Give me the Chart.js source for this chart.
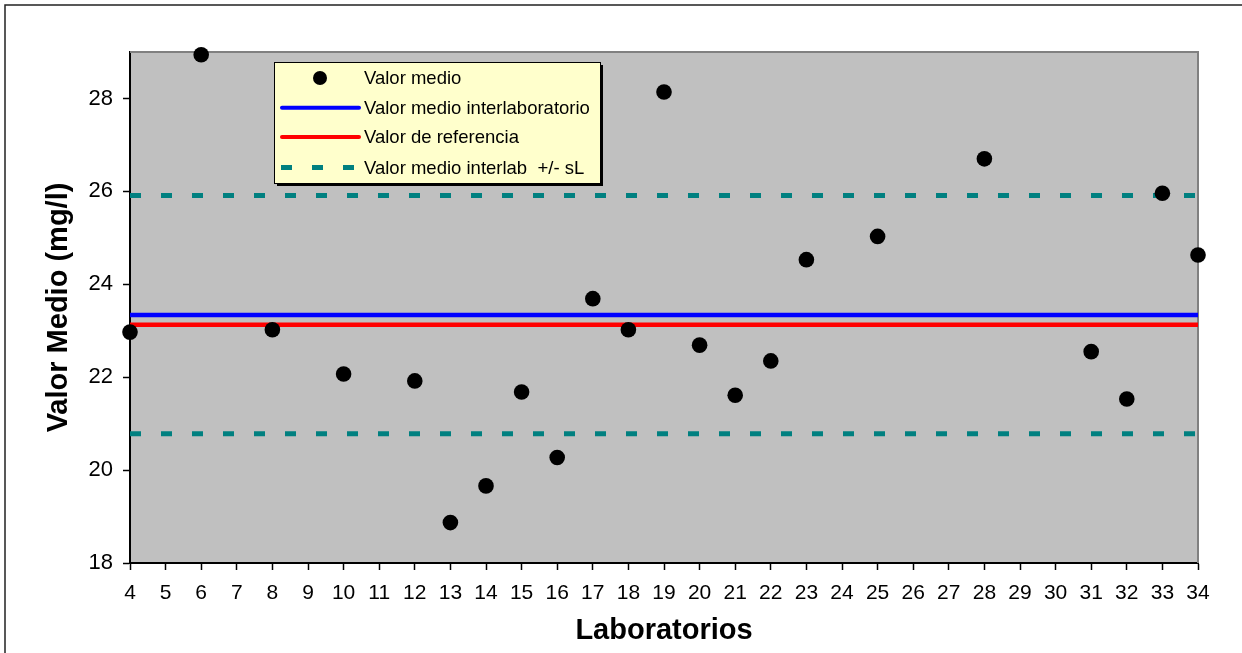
<!DOCTYPE html>
<html>
<head>
<meta charset="utf-8">
<script src="https://cdn.jsdelivr.net/npm/chart.js@4.4.1/dist/chart.umd.min.js"></script>
<style>
  html, body { margin: 0; padding: 0; background: #fff; }
  #wrap { width: 1242px; height: 653px; position: relative; }
</style>
</head>
<body>
<div id="wrap"><canvas id="c"></canvas></div>
<script>
// ---- data ----
const laboratorios = [4, 6, 8, 10, 12, 13, 14, 15, 16, 17, 18, 19, 20, 21, 22, 23, 25, 28, 31, 32, 33, 34];
const valorMedio   = [22.97, 28.94, 23.02, 22.07, 21.92, 18.87, 19.66, 21.68, 20.27, 23.69, 23.02, 28.14, 22.69, 21.61, 22.35, 24.53, 25.03, 26.70, 22.55, 21.53, 25.96, 24.63];
const valorMedioInterlab = 23.34;
const valorReferencia = 23.13;
const interlabMasSL = 25.91;
const interlabMenosSL = 20.78;
const xRange = [4, 34];
const yRange = [18, 29];
const yStep = 2;
const legendLabels = ['Valor medio', 'Valor medio interlaboratorio', 'Valor de referencia', 'Valor medio interlab  +/- sL'];
const xTitle = 'Laboratorios';
const yTitle = 'Valor Medio (mg/l)';

const FONT = "'Liberation Sans', Arial, sans-serif";

const hline = (v) => [{ x: xRange[0], y: v }, { x: xRange[1], y: v }];

const framePlugin = {
  id: 'frame',
  beforeDraw(chart) {
    const { ctx, chartArea: a } = chart;
    ctx.save();
    ctx.fillStyle = '#ffffff';
    ctx.fillRect(0, 0, chart.width, chart.height);
    ctx.strokeStyle = '#222';
    ctx.lineWidth = 1.5;
    ctx.strokeRect(5, 5, chart.width + 50, chart.height + 50);
    ctx.fillStyle = '#C0C0C0';
    ctx.fillRect(a.left, a.top, a.right - a.left, a.bottom - a.top);
    ctx.restore();
  },
  beforeDatasetsDraw(chart) {
    const { ctx, chartArea: a } = chart;
    ctx.save();
    ctx.strokeStyle = '#808080';
    ctx.lineWidth = 2;
    ctx.beginPath();
    ctx.moveTo(a.left, a.top);
    ctx.lineTo(a.right, a.top);
    ctx.lineTo(a.right, a.bottom);
    ctx.stroke();
    ctx.restore();
  },
  afterDraw(chart) {
    const { ctx } = chart;
    const bx = 274, by = 62, bw = 326, bh = 121;
    ctx.save();
    ctx.fillStyle = '#000';
    ctx.fillRect(bx + 3, by + 3, bw, bh);
    ctx.fillStyle = '#FFFFCC';
    ctx.fillRect(bx, by, bw, bh);
    ctx.strokeStyle = '#000';
    ctx.lineWidth = 1;
    ctx.strokeRect(bx + 0.5, by + 0.5, bw, bh);
    const rows = [78, 107.7, 137, 167.5];
    const ds = chart.data.datasets;
    ctx.font = '18.5px ' + FONT;
    ctx.textBaseline = 'middle';
    ctx.textAlign = 'left';
    for (let i = 0; i < 4; i++) {
      const y = rows[i];
      const d = ds[i];
      if (i === 0) {
        ctx.fillStyle = '#000';
        ctx.beginPath();
        ctx.arc(320, y, 7, 0, Math.PI * 2);
        ctx.fill();
      } else {
        ctx.strokeStyle = d.borderColor;
        ctx.lineWidth = i === 3 ? 5 : 4;
        ctx.lineCap = i === 3 ? 'butt' : 'round';
        ctx.setLineDash(d.borderDash || []);
        ctx.beginPath();
        ctx.moveTo(i === 3 ? 281 : 282, y);
        ctx.lineTo(i === 3 ? 356 : 359, y);
        ctx.stroke();
        ctx.setLineDash([]);
      }
      ctx.fillStyle = '#000';
      ctx.fillText(legendLabels[i], 364, y + 1);
    }
    ctx.restore();
  }
};

new Chart(document.getElementById('c'), {
  type: 'scatter',
  data: {
    datasets: [
      {
        label: legendLabels[0],
        data: laboratorios.map((x, i) => ({ x: x, y: valorMedio[i] })),
        backgroundColor: '#000',
        borderColor: '#000',
        pointRadius: 7.8,
        pointBorderWidth: 0,
        pointHoverRadius: 7.8,
        clip: false,
        order: 0
      },
      {
        label: legendLabels[1],
        type: 'line',
        data: hline(valorMedioInterlab),
        borderColor: '#0000FF',
        borderWidth: 4.5,
        pointRadius: 0,
        fill: false,
        order: 2
      },
      {
        label: legendLabels[2],
        type: 'line',
        data: hline(valorReferencia),
        borderColor: '#FF0000',
        borderWidth: 4.5,
        pointRadius: 0,
        fill: false,
        order: 1
      },
      {
        label: legendLabels[3],
        type: 'line',
        data: hline(interlabMasSL),
        borderColor: '#008080',
        borderWidth: 5,
        borderDash: [11, 20],
        borderCapStyle: 'butt',
        pointRadius: 0,
        fill: false,
        order: 3
      },
      {
        label: legendLabels[3] + ' (inf)',
        type: 'line',
        data: hline(interlabMenosSL),
        borderColor: '#008080',
        borderWidth: 5,
        borderDash: [11, 20],
        borderCapStyle: 'butt',
        pointRadius: 0,
        fill: false,
        order: 4
      }
    ]
  },
  options: {
    responsive: true,
    maintainAspectRatio: false,
    animation: false,
    events: [],
    layout: { padding: { top: 52, right: 44, left: 0, bottom: 0 } },
    plugins: {
      legend: { display: false },
      tooltip: { enabled: false }
    },
    scales: {
      x: {
        type: 'linear',
        min: xRange[0],
        max: xRange[1],
        afterFit(scale) { scale.height = 90; },
        grid: { display: true, drawOnChartArea: false, drawTicks: true, tickLength: 7, tickWidth: 1.5, color: '#000' },
        border: { display: true, color: '#000', width: 2 },
        ticks: {
          stepSize: 1,
          autoSkip: false,
          maxRotation: 0,
          padding: 11,
          color: '#000',
          font: { family: FONT, size: 21 }
        },
        title: {
          display: true,
          text: xTitle,
          color: '#000',
          font: { family: FONT, size: 29, weight: 'bold' },
          padding: { top: 0, bottom: 5 }
        }
      },
      y: {
        type: 'linear',
        min: yRange[0],
        max: yRange[1],
        afterFit(scale) { scale.width = 130; },
        afterBuildTicks(scale) {
          scale.ticks = scale.ticks.filter(t => (t.value - yRange[0]) % yStep === 0);
        },
        grid: { display: true, drawOnChartArea: false, drawTicks: true, tickLength: 7, tickWidth: 1.5, color: '#000' },
        border: { display: true, color: '#000', width: 2 },
        ticks: {
          stepSize: yStep,
          padding: 10,
          color: '#000',
          font: { family: FONT, size: 22 }
        },
        title: {
          display: true,
          text: yTitle,
          color: '#000',
          font: { family: FONT, size: 29, weight: 'bold' },
          padding: { top: 42, bottom: 0 }
        }
      }
    }
  },
  plugins: [framePlugin]
});
</script>
</body>
</html>
